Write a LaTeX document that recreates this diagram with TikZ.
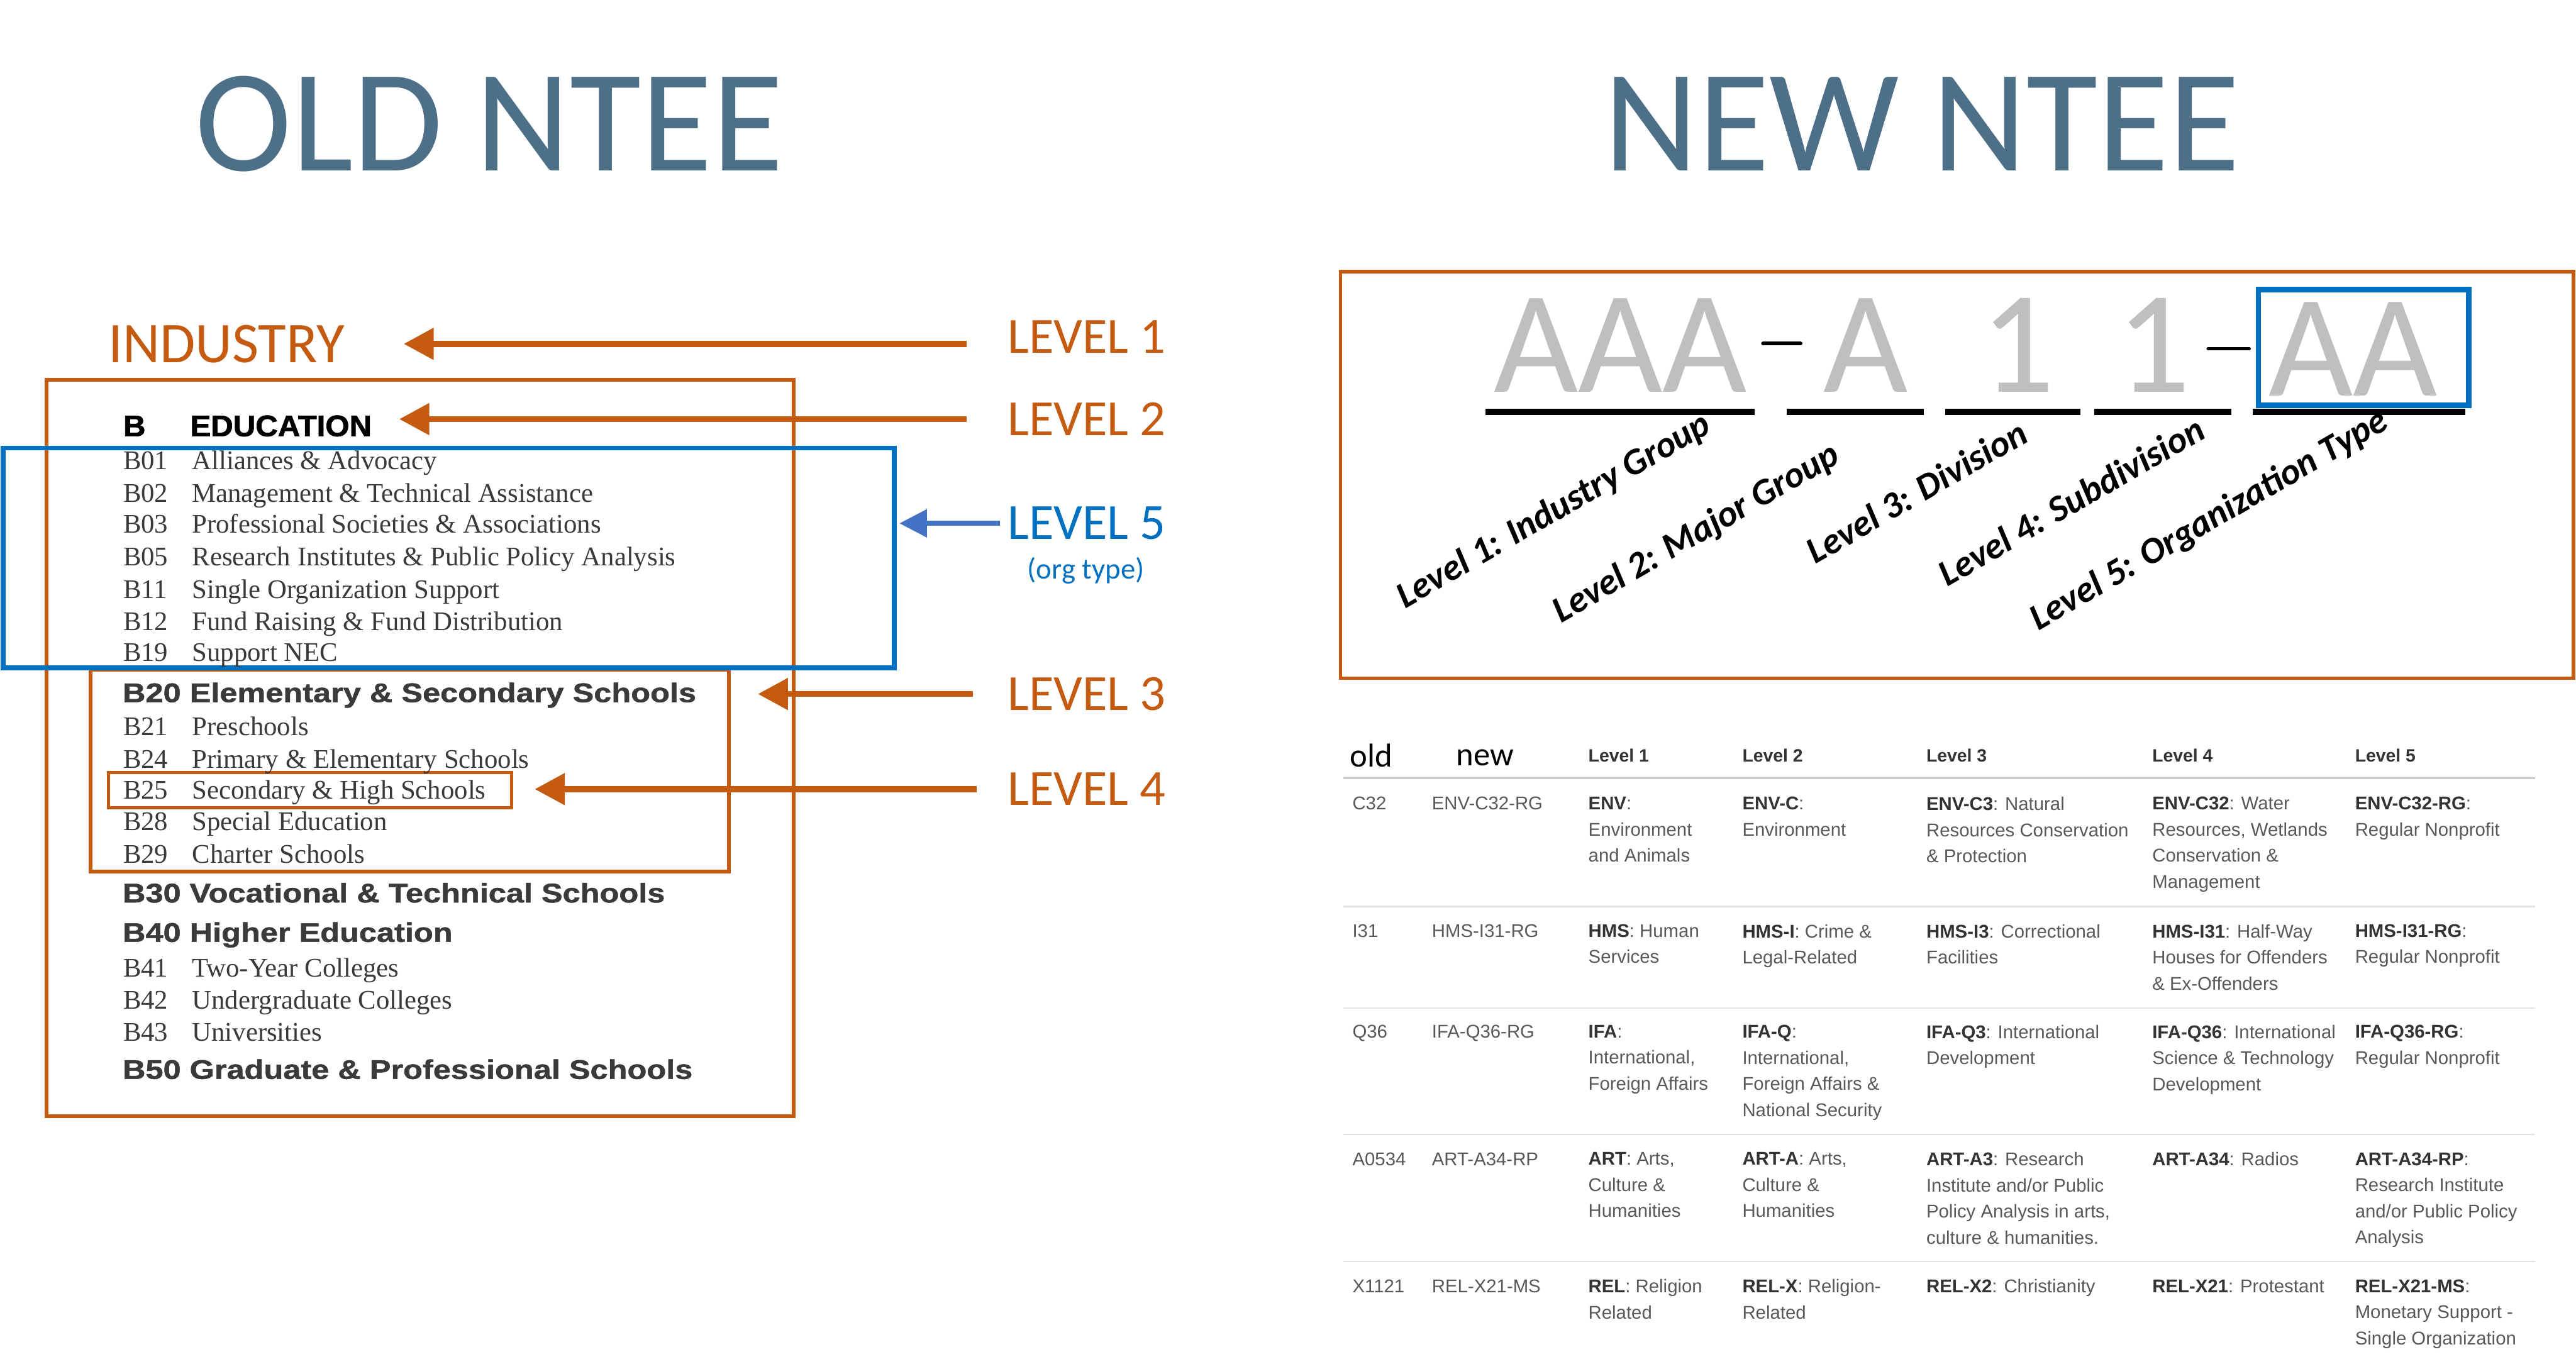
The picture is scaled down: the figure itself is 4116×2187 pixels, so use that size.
\documentclass[tikz,border=0pt]{standalone}
\usepackage{fontspec}
\setmainfont{Liberation Serif}
\setsansfont{Liberation Sans}
\newfontfamily\calfont{Carlito}
\newfontfamily\catfont{Liberation Sans}[FakeStretch=1.18, FakeBold=1.2]
\newfontfamily\edufont{Liberation Sans}[FakeStretch=1.04, FakeBold=1.5]
\usepackage{xcolor}
\usepackage{tikz}
\usetikzlibrary{arrows.meta}

\definecolor{ntorange}{HTML}{C55A11}
\definecolor{ntblue}{HTML}{0070C0}
\definecolor{ntarrowblue}{HTML}{4472C4}
\definecolor{nttitle}{HTML}{4D7088}
\definecolor{ntcode}{HTML}{BFBFBF}
\definecolor{ntlist}{HTML}{3A3A3A}
\definecolor{nttext}{HTML}{595959}
\definecolor{ntbold}{HTML}{333333}
\definecolor{ntrule}{HTML}{E2E2E2}

\newcommand{\tkey}[1]{{\color{ntbold}\bfseries #1}}

\tikzset{
	bigtitle/.style={font=\calfont\fontsize{233}{240}\selectfont, text=nttitle, anchor=base},
	lvl/.style={font=\calfont\fontsize{81}{90}\selectfont, text=ntorange, anchor=base west},
	orarrow/.style={draw=ntorange, line width=9.5pt, -{Triangle[length=48pt, width=49pt]}},
	bluearrow/.style={draw=ntarrowblue, line width=8.5pt, -{Triangle[length=44pt, width=43pt]}},
	orbox/.style={draw=ntorange, line width=6pt, anchor=north west},
	bluebox/.style={draw=ntblue, line width=7.5pt, anchor=north west},
	entry/.style={font=\fontsize{43}{50}\selectfont, text=ntlist, anchor=base west},
	catline/.style={font=\catfont\bfseries\fontsize{43}{50}\selectfont, text=ntlist, anchor=base west},
	edu/.style={font=\edufont\bfseries\fontsize{47.5}{54}\selectfont, anchor=base west},
	bigchar/.style={font=\calfont\fontsize{233}{240}\selectfont, text=ntcode, anchor=base},
	uline/.style={line width=10pt},
	levellabel/.style={font=\calfont\bfseries\itshape\fontsize{59}{64}\selectfont, rotate=30, anchor=base west},
	oldnew/.style={font=\calfont\fontsize{53}{60}\selectfont, anchor=base west},
	colhead/.style={font=\sffamily\bfseries\fontsize{28.5}{34}\selectfont, text=ntbold, anchor=base west},
	tcell/.style={font=\sffamily\fontsize{29.5}{41.7}\selectfont, text=nttext, align=left, anchor=north west},
	rowrule/.style={draw=ntrule, line width=2.5pt},
}

\begin{document}
\begin{tikzpicture}[x=1pt, y=-1pt, every node/.style={inner sep=0pt, outer sep=0pt}]
	\path[use as bounding box, fill=white] (0,0) rectangle (4116,2187);

	% titles
	\node[bigtitle] (oldtitle) at (782,273) {OLD NTEE};
	\node[bigtitle] (newtitle) at (3071,273) {NEW NTEE};

	% old scheme: boxes
	\node[orbox, minimum width=1194pt, minimum height=1177pt] (oldbox) at (74,607) {};
	\node[orbox, minimum width=1020pt, minimum height=323pt] (divbox) at (145,1070) {};
	\node[orbox, line width=5pt, minimum width=644pt, minimum height=56pt] (subbox) at (173.5,1234.5) {};
	\node[bluebox, minimum width=1424pt, minimum height=351pt] (typebox) at (5,716) {};

	% old scheme: list
	\node[font=\calfont\fontsize{92}{100}\selectfont, text=ntorange, anchor=base] (industry) at (362,579) {INDUSTRY};
	\node[edu] (majb) at (197,697) {B};
	\node[edu] (educ) at (304,697) {EDUCATION};
	\foreach \cd/\ds/\yb in {B01/Alliances \& Advocacy/750, B02/Management \& Technical Assistance/802,
			B03/Professional Societies \& Associations/852, B05/Research Institutes \& Public Policy Analysis/904,
			B11/Single Organization Support/956, B12/Fund Raising \& Fund Distribution/1007,
			B19/Support NEC/1057, B21/Preschools/1175, B24/Primary \& Elementary Schools/1227,
			B25/Secondary \& High Schools/1277, B28/Special Education/1327, B29/Charter Schools/1379,
			B41/Two-Year Colleges/1561, B42/Undergraduate Colleges/1612, B43/Universities/1664} {
		\node[entry] (c\cd) at (197,\yb) {\cd};
		\node[entry] (d\cd) at (307,\yb) {\ds};
	}
	\node[catline] (b20) at (196,1122) {B20 Elementary \& Secondary Schools};
	\node[catline] (b30) at (196,1442) {B30 Vocational \& Technical Schools};
	\node[catline] (b40) at (196,1505) {B40 Higher Education};
	\node[catline] (b50) at (196,1724) {B50 Graduate \& Professional Schools};

	% level labels and arrows
	\node[lvl] (lv1) at (1610,564) {LEVEL 1};
	\node[lvl] (lv2) at (1610,696) {LEVEL 2};
	\node[lvl, text=ntblue] (lv5) at (1610,862) {LEVEL 5};
	\node[font=\calfont\fontsize{47}{52}\selectfont, text=ntblue, anchor=base] (orgtype) at (1735,925) {(org type)};
	\node[lvl] (lv3) at (1610,1135) {LEVEL 3};
	\node[lvl] (lv4) at (1610,1287) {LEVEL 4};

	\draw[orarrow, shorten <=66pt, shorten >=94pt] (lv1.west |- industry.east) -- (industry.east);
	\draw[orarrow, shorten <=66pt, shorten >=44pt] (lv2.west) -- (lv2.west -| educ.east);
	\draw[bluearrow, shorten <=12pt, shorten >=8pt] (lv5.west) -- (lv5.west -| typebox.east);
	\draw[orarrow, shorten <=55pt, shorten >=46pt] (lv3.west) -- (lv3.west -| divbox.east);
	\draw[orarrow, shorten <=49pt, shorten >=37pt] (lv4.west) -- (lv4.west -| subbox.east);

	% new scheme: code
	\node[orbox, line width=5.5pt, minimum width=1970pt, minimum height=650pt] (newbox) at (2142,434) {};
	\node[bigchar] (aaa) at (2589,627) {AAA};
	\node[bigchar] (amaj) at (2981,627) {A};
	\node[bigchar] (onediv) at (3224,627) {1};
	\node[bigchar] (onesub) at (3441,627) {1};
	\node[bigchar] (aatype) at (3760,633) {AA};
	\node[bluebox, line width=9pt, minimum width=336pt, minimum height=185pt] (codebox) at (3608.5,462.5) {};
	\draw[line width=6pt, line cap=round] (2817,549) -- (2877,549);
	\draw[line width=5pt, line cap=round] (3528,557) -- (3594,557);
	\draw[uline] (2374,658) -- (2804,658);
	\draw[uline] (2855,658) -- (3074,658);
	\draw[uline] (3108,658) -- (3324,658);
	\draw[uline] (3346,658) -- (3565,658);
	\draw[uline] (3599,658) -- (3939,658);
	\node[levellabel] (lab1) at (2245,973) {Level 1: Industry Group};
	\node[levellabel] (lab2) at (2495,996) {Level 2: Major Group};
	\node[levellabel] (lab3) at (2901,902) {Level 3: Division};
	\node[levellabel] (lab4) at (3112,938) {Level 4: Subdivision};
	\node[levellabel] (lab5) at (3257,1008) {Level 5: Organization Type};

	% new scheme: table
	\node[oldnew] (hold) at (2157,1225) {old};
	\node[oldnew] (hnew) at (2327,1223) {new};
	\node[colhead] (hl1) at (2538,1217) {Level 1};
	\node[colhead] (hl2) at (2784,1217) {Level 2};
	\node[colhead] (hl3) at (3078,1217) {Level 3};
	\node[colhead] (hl4) at (3439,1217) {Level 4};
	\node[colhead] (hl5) at (3763,1217) {Level 5};
	\draw[rowrule, line width=3.5pt, draw=ntrule!90!black] (2146,1243.5) -- (4051,1243.5);
	\foreach \yr in {1448.5,1611,1813,2016}
		\draw[rowrule] (2146,\yr) -- (4051,\yr);

	\node[tcell] (r1c0) at (2161,1273.5) {C32};
	\node[tcell] (r1c1) at (2288,1273.5) {ENV-C32-RG};
	\node[tcell] (r1c2) at (2538,1273.5) {\tkey{ENV}:\\Environment\\and Animals};
	\node[tcell] (r1c3) at (2784,1273.5) {\tkey{ENV-C}:\\Environment};
	\node[tcell] (r1c4) at (3078,1273.5) {\tkey{ENV-C3}: Natural\\Resources Conservation\\\& Protection};
	\node[tcell] (r1c5) at (3439,1273.5) {\tkey{ENV-C32}: Water\\Resources, Wetlands\\Conservation \&\\Management};
	\node[tcell] (r1c6) at (3763,1273.5) {\tkey{ENV-C32-RG}:\\Regular Nonprofit};

	\node[tcell] (r2c0) at (2161,1477) {I31};
	\node[tcell] (r2c1) at (2288,1477) {HMS-I31-RG};
	\node[tcell] (r2c2) at (2538,1477) {\tkey{HMS}: Human\\Services};
	\node[tcell] (r2c3) at (2784,1477) {\tkey{HMS-I}: Crime \&\\Legal-Related};
	\node[tcell] (r2c4) at (3078,1477) {\tkey{HMS-I3}: Correctional\\Facilities};
	\node[tcell] (r2c5) at (3439,1477) {\tkey{HMS-I31}: Half-Way\\Houses for Offenders\\\& Ex-Offenders};
	\node[tcell] (r2c6) at (3763,1477) {\tkey{HMS-I31-RG}:\\Regular Nonprofit};

	\node[tcell] (r3c0) at (2161,1638) {Q36};
	\node[tcell] (r3c1) at (2288,1638) {IFA-Q36-RG};
	\node[tcell] (r3c2) at (2538,1638) {\tkey{IFA}:\\International,\\Foreign Affairs};
	\node[tcell] (r3c3) at (2784,1638) {\tkey{IFA-Q}:\\International,\\Foreign Affairs \&\\National Security};
	\node[tcell] (r3c4) at (3078,1638) {\tkey{IFA-Q3}: International\\Development};
	\node[tcell] (r3c5) at (3439,1638) {\tkey{IFA-Q36}: International\\Science \& Technology\\Development};
	\node[tcell] (r3c6) at (3763,1638) {\tkey{IFA-Q36-RG}:\\Regular Nonprofit};

	\node[tcell] (r4c0) at (2161,1841.5) {A0534};
	\node[tcell] (r4c1) at (2288,1841.5) {ART-A34-RP};
	\node[tcell] (r4c2) at (2538,1841.5) {\tkey{ART}: Arts,\\Culture \&\\Humanities};
	\node[tcell] (r4c3) at (2784,1841.5) {\tkey{ART-A}: Arts,\\Culture \&\\Humanities};
	\node[tcell] (r4c4) at (3078,1841.5) {\tkey{ART-A3}: Research\\Institute and/or Public\\Policy Analysis in arts,\\culture \& humanities.};
	\node[tcell] (r4c5) at (3439,1841.5) {\tkey{ART-A34}: Radios};
	\node[tcell] (r4c6) at (3763,1841.5) {\tkey{ART-A34-RP}:\\Research Institute\\and/or Public Policy\\Analysis};

	\node[tcell] (r5c0) at (2161,2044.5) {X1121};
	\node[tcell] (r5c1) at (2288,2044.5) {REL-X21-MS};
	\node[tcell] (r5c2) at (2538,2044.5) {\tkey{REL}: Religion\\Related};
	\node[tcell] (r5c3) at (2784,2044.5) {\tkey{REL-X}: Religion-\\Related};
	\node[tcell] (r5c4) at (3078,2044.5) {\tkey{REL-X2}: Christianity};
	\node[tcell] (r5c5) at (3439,2044.5) {\tkey{REL-X21}: Protestant};
	\node[tcell] (r5c6) at (3763,2044.5) {\tkey{REL-X21-MS}:\\Monetary Support -\\Single Organization};
\end{tikzpicture}
\end{document}
